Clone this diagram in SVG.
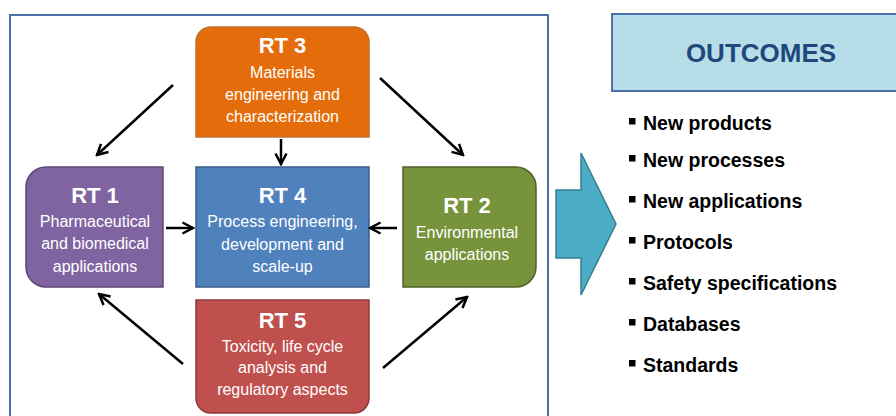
<svg xmlns="http://www.w3.org/2000/svg" width="896" height="416" viewBox="0 0 896 416">
  <defs>
    <marker id="head" markerUnits="userSpaceOnUse" viewBox="0 0 14 14" refX="12" refY="7" markerWidth="14" markerHeight="14" orient="auto">
      <path d="M1.5,1.5 L12,7 L1.5,12.5" fill="none" stroke="#000" stroke-width="2.5" stroke-linejoin="miter"/>
    </marker>
    <style>
      text { font-family: "Liberation Sans", Arial, sans-serif; }
      .title { font-size: 22px; font-weight: bold; fill: #fff; text-anchor: middle; }
      .sub { font-size: 16px; fill: #fff; text-anchor: middle; }
      .conn { stroke: #000; stroke-width: 2.5; fill: none; marker-end: url(#head); }
      .item { font-size: 19.5px; font-weight: bold; fill: #000; }
      .bullet { fill: #000; }
    </style>
  </defs>

  <rect id="frame" x="10" y="15" width="538" height="430" fill="#fff" stroke="#4a72a6" stroke-width="2"/>

  <g id="rt3">
    <path d="M196,137 V42 A15,15 0 0 1 211,27 H354 A15,15 0 0 1 369,42 V137 Z" fill="#e46c0a" stroke="#c0702e" stroke-width="1.5"/>
    <text class="title" x="282.5" y="53">RT 3</text>
    <text class="sub" x="282.5" y="78">Materials</text>
    <text class="sub" x="282.5" y="100">engineering and</text>
    <text class="sub" x="282.5" y="122">characterization</text>
  </g>

  <g id="rt1">
    <path d="M163,167 H46 A20,20 0 0 0 26,187 V267 A20,20 0 0 0 46,287 H163 Z" fill="#8064a2" stroke="#5c4776" stroke-width="1.5"/>
    <text class="title" x="95" y="203">RT 1</text>
    <text class="sub" x="95" y="227">Pharmaceutical</text>
    <text class="sub" x="95" y="249">and biomedical</text>
    <text class="sub" x="95" y="272">applications</text>
  </g>

  <g id="rt4">
    <rect x="196" y="167" width="173" height="120" fill="#4f81bd" stroke="#385d8a" stroke-width="1.5"/>
    <text class="title" x="282.5" y="203">RT 4</text>
    <text class="sub" x="282.5" y="227">Process engineering,</text>
    <text class="sub" x="282.5" y="250">development and</text>
    <text class="sub" x="282.5" y="272">scale-up</text>
  </g>

  <g id="rt2">
    <path d="M403,167 H516 A20,20 0 0 1 536,187 V267 A20,20 0 0 1 516,287 H403 Z" fill="#77933c" stroke="#4f6228" stroke-width="1.5"/>
    <text class="title" x="467" y="213">RT 2</text>
    <text class="sub" x="467" y="238">Environmental</text>
    <text class="sub" x="467" y="260">applications</text>
  </g>

  <g id="rt5">
    <path d="M196,300 H369 V398 A15,15 0 0 1 354,413 H211 A15,15 0 0 1 196,398 Z" fill="#c0504d" stroke="#8c3836" stroke-width="1.5"/>
    <text class="title" x="282.5" y="328">RT 5</text>
    <text class="sub" x="282.5" y="352">Toxicity, life cycle</text>
    <text class="sub" x="282.5" y="373">analysis and</text>
    <text class="sub" x="282.5" y="395">regulatory aspects</text>
  </g>

  <g id="connectors">
    <line class="conn" x1="173" y1="85" x2="97" y2="155"/>
    <line class="conn" x1="281" y1="139" x2="281" y2="164"/>
    <line class="conn" x1="380" y1="78" x2="463" y2="155"/>
    <line class="conn" x1="166" y1="228" x2="193" y2="228"/>
    <line class="conn" x1="397" y1="228" x2="370" y2="228"/>
    <line class="conn" x1="183" y1="364" x2="99" y2="294"/>
    <line class="conn" x1="383" y1="368" x2="467" y2="297"/>
  </g>

  <g id="big-arrow">
    <polygon points="556,190 581,190 581,153 616,224 581,295 581,258 556,258" fill="#4bacc6" stroke="#357d91" stroke-width="1.5"/>
  </g>

  <g id="outcomes">
    <rect x="612" y="14" width="300" height="77" fill="#b7dee8" stroke="#4a72a6" stroke-width="2"/>
    <text x="761" y="62" text-anchor="middle" font-size="26" font-weight="bold" fill="#1f497d">OUTCOMES</text>
  </g>

  <g id="outcome-list">
    <rect class="bullet" x="629" y="118" width="6.5" height="6.5"/>
    <text class="item" x="643" y="130">New products</text>
    <rect class="bullet" x="629" y="155" width="6.5" height="6.5"/>
    <text class="item" x="643" y="167">New processes</text>
    <rect class="bullet" x="629" y="196" width="6.5" height="6.5"/>
    <text class="item" x="643" y="208">New applications</text>
    <rect class="bullet" x="629" y="237" width="6.5" height="6.5"/>
    <text class="item" x="643" y="249">Protocols</text>
    <rect class="bullet" x="629" y="278" width="6.5" height="6.5"/>
    <text class="item" x="643" y="290">Safety specifications</text>
    <rect class="bullet" x="629" y="319" width="6.5" height="6.5"/>
    <text class="item" x="643" y="331">Databases</text>
    <rect class="bullet" x="629" y="360" width="6.5" height="6.5"/>
    <text class="item" x="643" y="372">Standards</text>
  </g>
</svg>
